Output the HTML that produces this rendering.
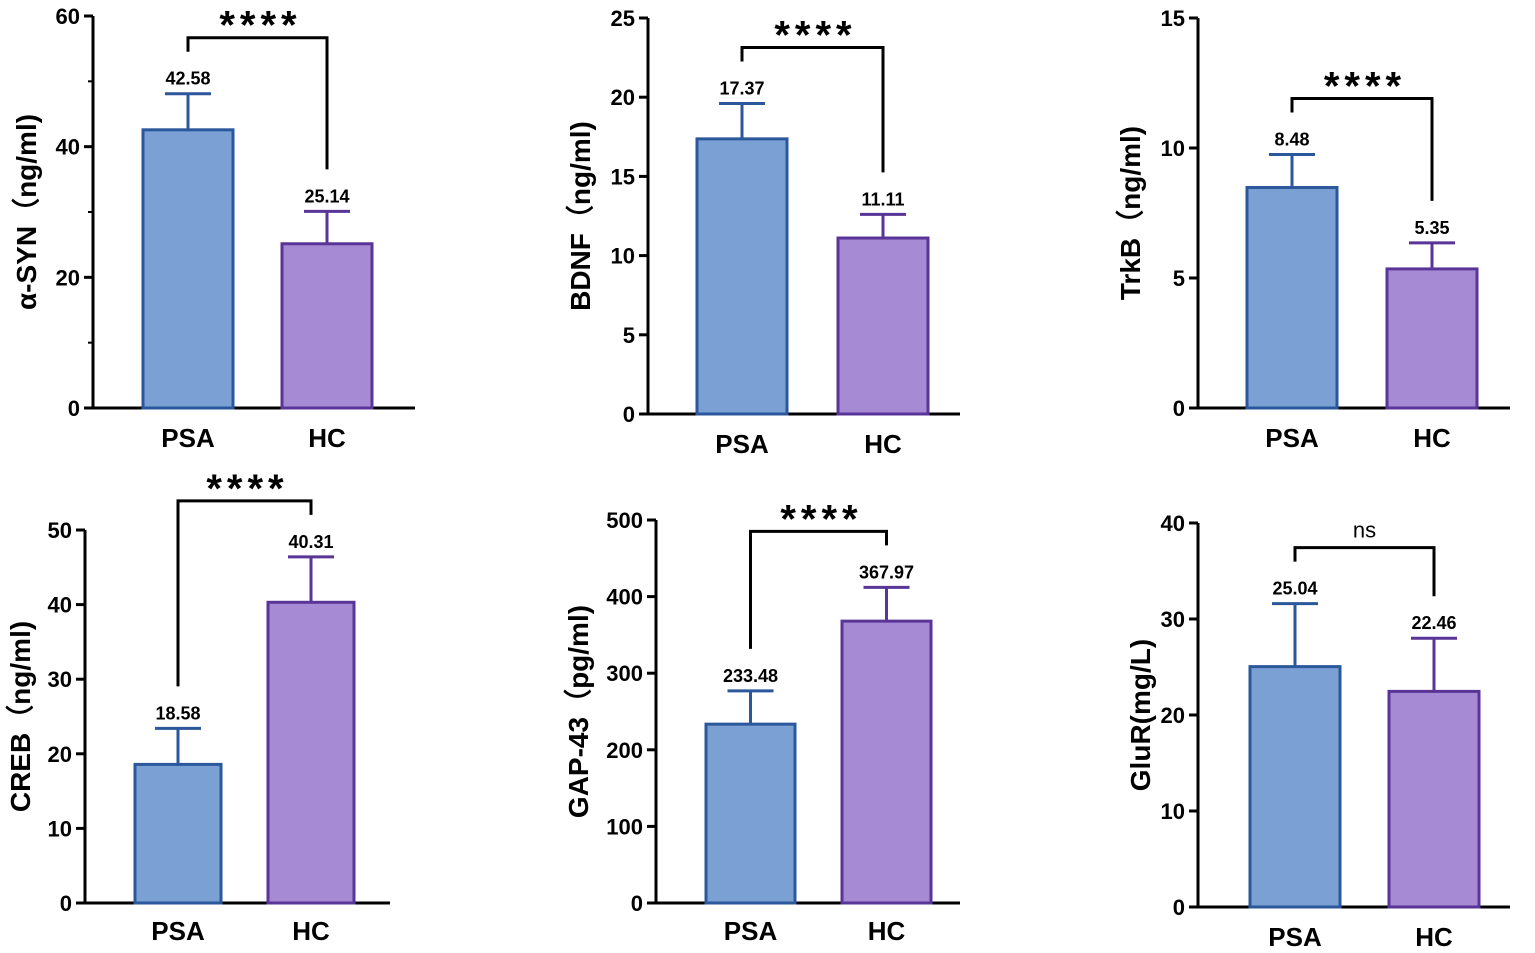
<!DOCTYPE html>
<html><head><meta charset="utf-8"><style>
html,body{margin:0;padding:0;background:#fff;}
svg{display:block;font-family:"Liberation Sans",Arial,sans-serif;font-weight:bold;}
</style></head><body>
<svg id="chart" width="1535" height="953" viewBox="0 0 1535 953"></svg>
<script>
const categories = ['PSA','HC'];
const titles = ['α-SYN（ng/ml)','BDNF（ng/ml)','TrkB（ng/ml)','CREB（ng/ml)','GAP-43（pg/ml)','GluR(mg/L)'];
const valuesAsyn = [42.58, 25.14];
const valuesBdnf = [17.37, 11.11];
const valuesTrkb = [8.48, 5.35];
const valuesCreb = [18.58, 40.31];
const valuesGap = [233.48, 367.97];
const valuesGlur = [25.04, 22.46];
const errAsyn = [48.1, 30.1];
const errBdnf = [19.6, 12.6];
const errTrkb = [9.75, 6.35];
const errCreb = [23.4, 46.4];
const errGap = [277, 412];
const errGlur = [31.6, 28.0];
const ticksAsyn = [0,20,40,60];
const ticksBdnf = [0,5,10,15,20,25];
const ticksTrkb = [0,5,10,15];
const ticksCreb = [0,10,20,30,40,50];
const ticksGap = [0,100,200,300,400,500];
const ticksGlur = [0,10,20,30,40];
const sigLabels = ['****','****','****','****','****','ns'];

const values=[valuesAsyn,valuesBdnf,valuesTrkb,valuesCreb,valuesGap,valuesGlur];
const errs=[errAsyn,errBdnf,errTrkb,errCreb,errGap,errGlur];
const ticks=[ticksAsyn,ticksBdnf,ticksTrkb,ticksCreb,ticksGap,ticksGlur];
const minorTicks=[true,false,false,false,false,false];
const layout=[
 {ax:93,top:16,bot:408,xe:415,b:[143,282],bw:90,tx:26,ly:438},
 {ax:648,top:18,bot:414,xe:960,b:[697,838],bw:90,tx:580,ly:444},
 {ax:1198,top:18,bot:408,xe:1510,b:[1247,1387],bw:90,tx:1130,ly:438},
 {ax:85,top:530,bot:903,xe:390,b:[135,268],bw:86,tx:20,ly:931},
 {ax:656,top:520,bot:903,xe:960,b:[706,842],bw:89,tx:578,ly:931},
 {ax:1198,top:523,bot:907,xe:1510,b:[1250,1389],bw:90,tx:1140,ly:937}
];
const fills=['#7ba1d4','#a68ad3'], strokes=['#2b579b','#5a3598'];
const svg=document.getElementById('chart');
const NS='http://www.w3.org/2000/svg';
function mk(tag,attrs,parent,text){const e=document.createElementNS(NS,tag);for(const k in attrs)e.setAttribute(k,attrs[k]);if(text!==undefined)e.textContent=text;parent.appendChild(e);return e;}
layout.forEach((L,p)=>{
  const g=mk('g',{},svg);
  
  
  const tk=ticks[p], max=tk[tk.length-1];
  const y=v=>L.bot-(v/max)*(L.bot-L.top);
  const yax=mk('line',{x1:L.ax,y1:L.top,x2:L.ax,y2:L.bot+1.5,stroke:'#000','stroke-width':3},g);
  
  
  const xax=mk('line',{x1:L.ax-1.5,y1:L.bot,x2:L.xe,y2:L.bot,stroke:'#000','stroke-width':3},g);
  
  
  tk.forEach((t,i)=>{
    mk('line',{x1:L.ax-9,y1:y(t),x2:L.ax,y2:y(t),stroke:'#000','stroke-width':3},g);
    const tl=mk('text',{x:L.ax-13,y:y(t)+8,'text-anchor':'end','font-size':22},g,String(t));
    
    
    if(minorTicks[p]&&i<tk.length-1){const m=(t+tk[i+1])/2;mk('line',{x1:L.ax-5,y1:y(m),x2:L.ax,y2:y(m),stroke:'#000','stroke-width':2},g);}
  });
  const cy=(L.top+L.bot)/2;
  const tt=mk('text',{x:L.tx,y:cy,'text-anchor':'middle','font-size':28,transform:`rotate(-90 ${L.tx} ${cy}) translate(0 10)`},g,titles[p]);
  
  
  const legEnds=[];
  categories.forEach((c,i)=>{
    const v=values[p][i], e=errs[p][i], cx=L.b[i]+L.bw/2;
    const bar=mk('rect',{x:L.b[i],y:y(v),width:L.bw,height:L.bot-y(v),fill:fills[i],stroke:strokes[i],'stroke-width':3},g);
    
    
    mk('line',{x1:cx,y1:y(v),x2:cx,y2:y(e),stroke:strokes[i],'stroke-width':3},g);
    const cap=mk('line',{x1:cx-23,y1:y(e),x2:cx+23,y2:y(e),stroke:strokes[i],'stroke-width':3},g);
    
    
    const vl=mk('text',{x:cx,y:y(e)-9,'text-anchor':'middle','font-size':18},g,v.toFixed(2));
    
    
    const cl=mk('text',{x:cx,y:L.ly+9,'text-anchor':'middle','font-size':26},g,c);
    
    
    legEnds.push(y(e)-42);
  });
  const by=Math.min(...legEnds)-14;
  const x0=L.b[0]+L.bw/2, x1=L.b[1]+L.bw/2;
  const br=mk('polyline',{points:`${x0},${legEnds[0]} ${x0},${by} ${x1},${by} ${x1},${legEnds[1]}`,fill:'none',stroke:'#000','stroke-width':3},g);
  
  
  const ns=sigLabels[p]==='ns';
  const st=mk('text',{x:(x0+x1)/2+(ns?0:3),y:ns?by-10:by+1,'text-anchor':'middle','font-size':ns?22:40,'letter-spacing':ns?0:5,'font-weight':ns?'normal':'bold'},g,sigLabels[p]);
  
  
});
</script>
</body></html>
